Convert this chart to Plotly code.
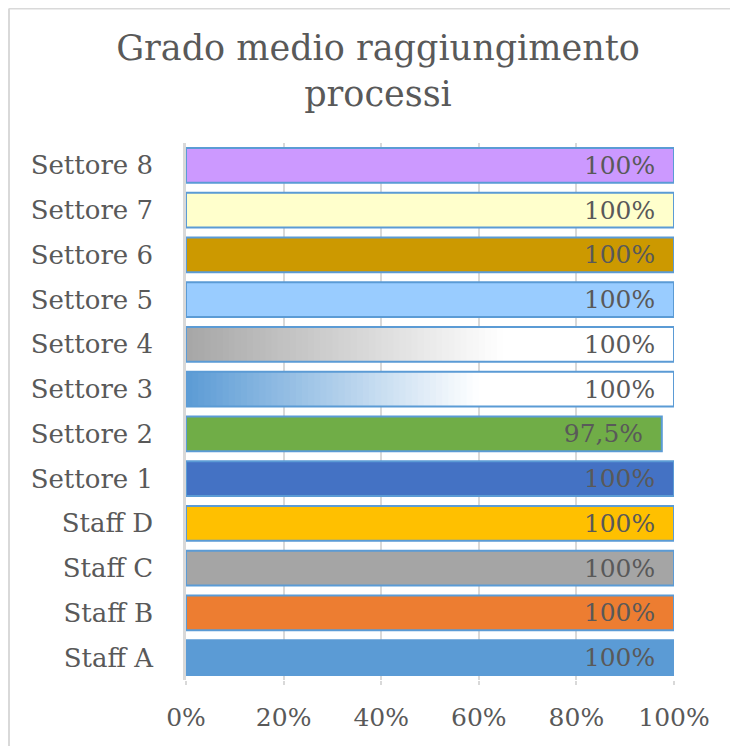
import plotly.graph_objects as go

# ---- data ----
categories = ["Staff A", "Staff B", "Staff C", "Staff D", "Settore 1", "Settore 2",
              "Settore 3", "Settore 4", "Settore 5", "Settore 6", "Settore 7", "Settore 8"]
values = [100, 100, 100, 100, 100, 97.5, 100, 100, 100, 100, 100, 100]
bar_colors = ["#5B9BD5", "#ED7D31", "#A5A5A5", "#FFC000", "#4472C4", "#70AD47",
              "#FFFFFF", "#FFFFFF", "#99CCFF", "#CC9900", "#FFFFCC", "#CC99FF"]
# categories drawn with a horizontal gradient: (category, start colour, fraction where it becomes white)
gradients = [("Settore 3", "#5B9BD5", 0.60), ("Settore 4", "#A6A6A6", 0.65)]
x_ticks = [0, 20, 40, 60, 80, 100]
x_tick_labels = ["0%", "20%", "40%", "60%", "80%", "100%"]
title_text = "Grado medio raggiungimento<br>processi"

FONT = "DejaVu Serif"
TXT = "#595959"
GRID = "#D9D9D9"
# page body has an 8px margin, so the figure is drawn 8px in from the top-left
W, H = 730, 738
ML, MR, MT, MB = 178, 64, 135, 66


def hex_to_rgb(h):
    h = h.lstrip("#")
    return tuple(int(h[i:i + 2], 16) for i in (0, 2, 4))


def mix(c0, c1, t):
    a, b = hex_to_rgb(c0), hex_to_rgb(c1)
    return "rgb({},{},{})".format(*[round(a[i] + (b[i] - a[i]) * t) for i in range(3)])


fig = go.Figure()

# main bars
fig.add_trace(go.Bar(
    y=categories, x=values, orientation="h",
    marker=dict(color=bar_colors, line=dict(width=0)),
    hoverinfo="skip", showlegend=False,
))

# gradient bars built from the data value
val_of = dict(zip(categories, values))
for cat, c0, stop in gradients:
    v = val_of[cat]
    n = 80
    w = v / n
    bases = [i * w for i in range(n)]
    widths = [min(w * 1.4, v - b) for b in bases]
    cols = [mix(c0, "#FFFFFF", min(1.0, (i + 0.5) / n / stop)) for i in range(n)]
    fig.add_trace(go.Bar(
        y=[cat] * n, x=widths, base=bases, orientation="h",
        marker=dict(color=cols, line=dict(width=0)),
        hoverinfo="skip", showlegend=False,
    ))

# outline + labels
labels = [("{:g}%".format(v)).replace(".", ",") + "\u00a0\u00a0" for v in values]
fig.add_trace(go.Bar(
    y=categories, x=values, orientation="h",
    marker=dict(color="rgba(0,0,0,0)", line=dict(color="#5B9BD5", width=2)),
    text=labels, textposition="inside", insidetextanchor="end", textangle=0,
    textfont=dict(family=FONT, size=25, color=TXT),
    showlegend=False,
))

pw = W - ML - MR
ph = H - MT - MB
# outer chart frame (top and left edges)
fx = (1 - ML) / pw
fy = (H - MB - 0.5) / ph
fig.add_shape(type="line", xref="paper", yref="paper", x0=fx, x1=(W - ML) / pw, y0=fy, y1=fy,
              line=dict(color=GRID, width=2))
fig.add_shape(type="line", xref="paper", yref="paper", x0=fx, x1=fx, y0=fy, y1=-MB / ph,
              line=dict(color=GRID, width=2))

fig.update_layout(
    width=W, height=H,
    margin=dict(l=ML, r=MR, t=MT, b=MB),
    paper_bgcolor="white", plot_bgcolor="white",
    barmode="overlay", bargap=0.22,
    title=dict(text=title_text, x=370 / W, xref="container", xanchor="center",
               y=1 - 52 / H, yref="container", yanchor="middle",
               font=dict(family=FONT, size=35, color=TXT)),
    xaxis=dict(range=[0, 100], tickvals=x_ticks, ticktext=x_tick_labels,
               showgrid=True, gridcolor=GRID, gridwidth=1.5,
               zeroline=False, showline=False,
               ticks="outside", ticklen=4, tickcolor=GRID, tickwidth=1.5,
               ticklabelstandoff=11,
               tickfont=dict(family=FONT, size=25, color=TXT), fixedrange=True),
    yaxis=dict(categoryorder="array", categoryarray=categories,
               showline=True, linecolor=GRID, linewidth=2.5,
               showgrid=False, ticks="", ticklabelstandoff=25,
               tickfont=dict(family=FONT, size=26, color=TXT), fixedrange=True),
)

fig.write_html("out.html")
